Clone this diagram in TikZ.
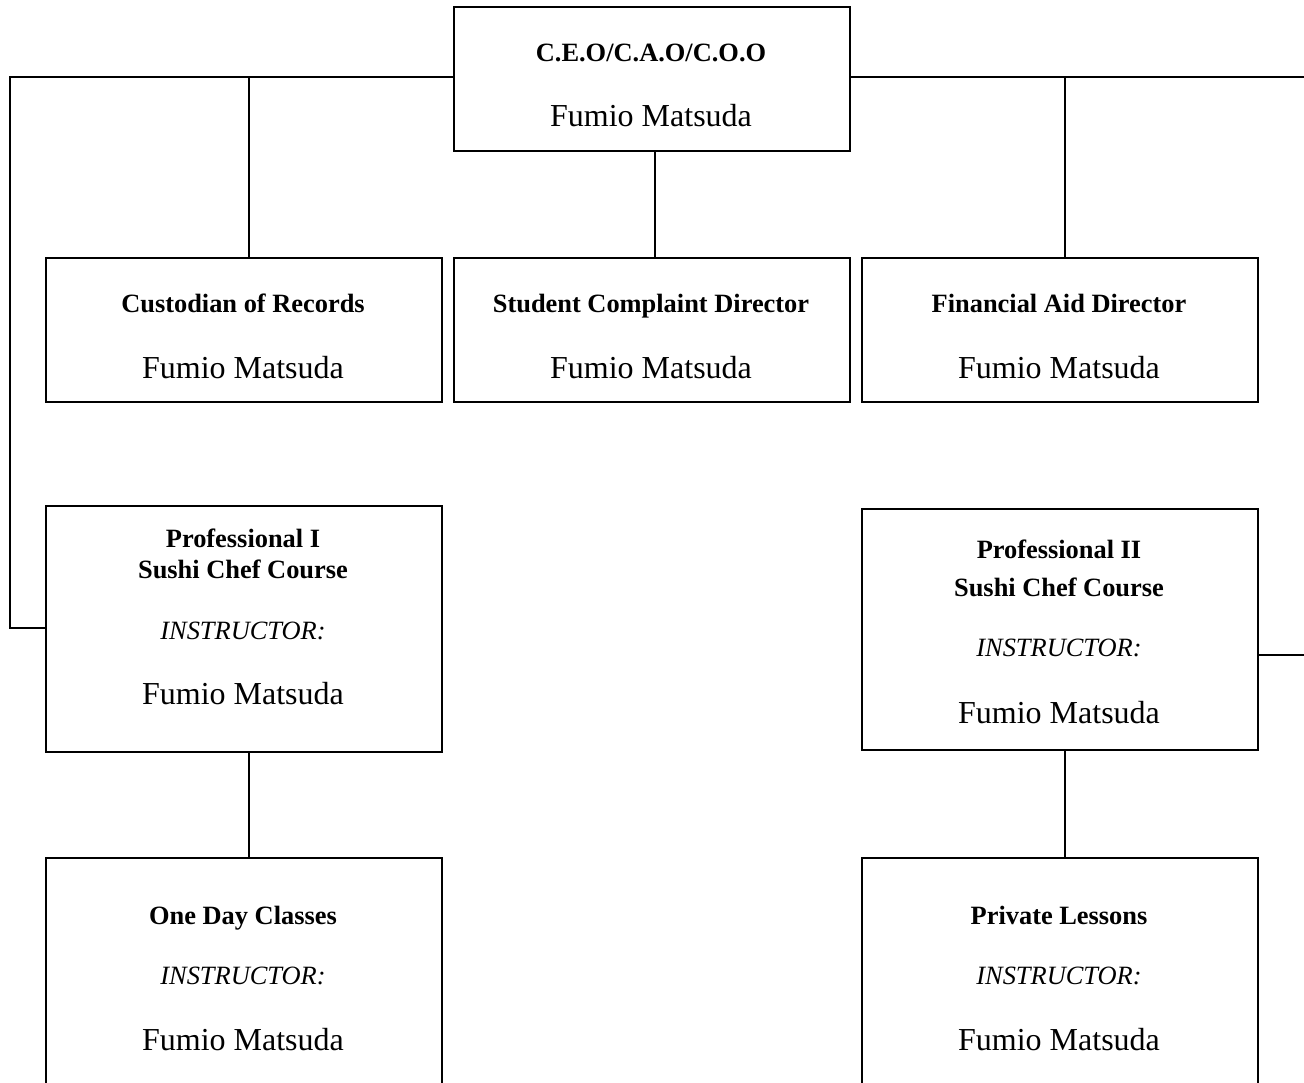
\documentclass[tikz,border=0pt]{standalone}
\usepackage{fontspec}
\setmainfont{Liberation Serif}
\begin{document}
\begin{tikzpicture}[x=0.5pt,y=-0.5pt,
  box/.style={draw=black,line width=0.75pt,inner sep=0pt,anchor=north west},
  ttl/.style={anchor=base,inner sep=0pt,font=\fontsize{13.2}{15}\selectfont\bfseries},
  nm/.style={anchor=base,inner sep=0pt,font=\fontsize{16}{19}\selectfont},
  ins/.style={anchor=base,inner sep=0pt,font=\fontsize{13.2}{15}\selectfont\itshape},
  conn/.style={draw=black,line width=1pt}]
\useasboundingbox (0,0) rectangle (1304,1082);
\clip (0,0) rectangle (1304,1082);
% boxes
\node[box,minimum width=198pt,minimum height=72pt] (ceo) at (453,6) {};
\node[box,minimum width=198pt,minimum height=72pt] (cus) at (45,257) {};
\node[box,minimum width=198pt,minimum height=72pt] (stu) at (453,257) {};
\node[box,minimum width=198pt,minimum height=72pt] (fin) at (861,257) {};
\node[box,minimum width=198pt,minimum height=123pt] (p1) at (45,505) {};
\node[box,minimum width=198pt,minimum height=120.5pt] (p2) at (861,508) {};
\node[box,minimum width=198pt,minimum height=130pt] (one) at (45,857) {};
\node[box,minimum width=198pt,minimum height=130pt] (pri) at (861,857) {};
% texts
\node[ttl] (ceot) at (651,61) {C.E.O/C.A.O/C.O.O};
\node[nm] (ceon) at (651,126.5) {Fumio Matsuda};
\node[ttl] (cust) at (243,312) {Custodian of Records};
\node[nm] (cusn) at (243,378.5) {Fumio Matsuda};
\node[ttl] (stut) at (651,312) {Student Complaint Director};
\node[nm] (stun) at (651,378.5) {Fumio Matsuda};
\node[ttl] (fint) at (1059,312) {Financial Aid Director};
\node[nm] (finn) at (1059,378.5) {Fumio Matsuda};
\node[ttl] (p1a) at (243,547) {Professional I};
\node[ttl] (p1b) at (243,578) {Sushi Chef Course};
\node[ins] (p1i) at (243,639) {INSTRUCTOR:};
\node[nm] (p1n) at (243,704.5) {Fumio Matsuda};
\node[ttl] (p2a) at (1059,558) {Professional II};
\node[ttl] (p2b) at (1059,596) {Sushi Chef Course};
\node[ins] (p2i) at (1059,656) {INSTRUCTOR:};
\node[nm] (p2n) at (1059,723.5) {Fumio Matsuda};
\node[ttl] (onet) at (243,924) {One Day Classes};
\node[ins] (onei) at (243,984) {INSTRUCTOR:};
\node[nm] (onen) at (243,1050.5) {Fumio Matsuda};
\node[ttl] (prit) at (1059,924) {Private Lessons};
\node[ins] (prii) at (1059,984) {INSTRUCTOR:};
\node[nm] (prin) at (1059,1050.5) {Fumio Matsuda};
% connectors
\coordinate (lft) at (10,77);
\coordinate (rgt) at (1320,77);
\coordinate (rgtb) at (1320,655);
\draw[conn] (ceo.west |- lft) -- (lft) -- (lft |- 0,628) -- (p1.west |- 0,628);
\draw[conn] (ceo.east |- rgt) -- (rgt) -- (rgtb) -- (p2.east |- rgtb);
\draw[conn] (249,77) -- (249,257);
\draw[conn] (1065,77) -- (1065,257);
\draw[conn] (ceo.south -| 655,0) -- (stu.north -| 655,0);
\draw[conn] (p1.south -| 249,0) -- (one.north -| 249,0);
\draw[conn] (p2.south -| 1065,0) -- (pri.north -| 1065,0);
\end{tikzpicture}
\end{document}
